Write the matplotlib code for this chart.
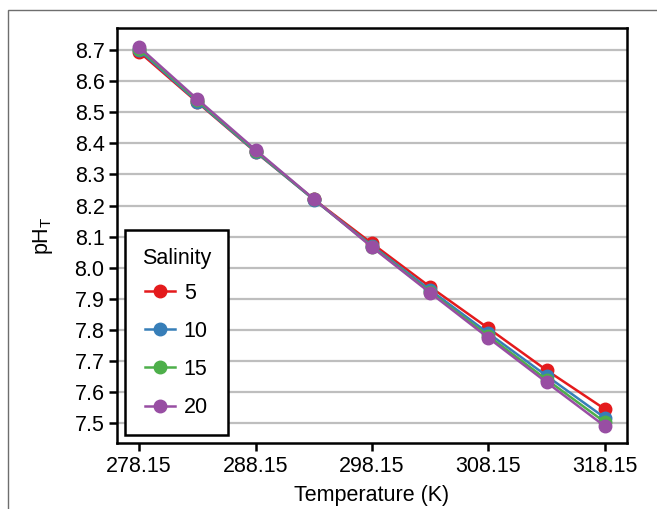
import matplotlib
matplotlib.use("Agg")
import matplotlib.pyplot as plt
from matplotlib.patches import Rectangle

# temperatures (K) and pH_T for each salinity
temps = [278.15, 283.15, 288.15, 293.15, 298.15, 303.15, 308.15, 313.15, 318.15]
ph_s5 = [8.694, 8.532, 8.372, 8.220, 8.078, 7.938, 7.805, 7.670, 7.545]
ph_s10 = [8.700, 8.534, 8.373, 8.219, 8.071, 7.928, 7.789, 7.652, 7.517]
ph_s15 = [8.705, 8.538, 8.376, 8.220, 8.068, 7.922, 7.780, 7.640, 7.503]
ph_s20 = [8.710, 8.542, 8.379, 8.221, 8.066, 7.919, 7.774, 7.631, 7.490]
salinities = ["5", "10", "15", "20"]
colors = ["#E41A1C", "#377EB8", "#4DAF4A", "#984EA3"]
yticks = [7.5, 7.6, 7.7, 7.8, 7.9, 8.0, 8.1, 8.2, 8.3, 8.4, 8.5, 8.6, 8.7]
xticks = [278.15, 288.15, 298.15, 308.15, 318.15]

plt.rcParams['font.family'] = ['Liberation Sans', 'DejaVu Sans']
FS = 15.5

fig = plt.figure(figsize=(6.57, 5.09), dpi=100)
ax = fig.add_axes([117 / 657, 1 - 443 / 509, 510 / 657, 415 / 509])

# thin grey frame around the figure (cropped at right/bottom)
fig.patches.append(Rectangle((8 / 657, -0.2), 1.5, 1.2 - 10 / 509,
                             transform=fig.transFigure, fill=False,
                             edgecolor="#6e6e6e", linewidth=1.0))

for vals, lab, col in zip([ph_s5, ph_s10, ph_s15, ph_s20], salinities, colors):
    ax.plot(temps, vals, color=col, linewidth=1.8, marker="o",
            markersize=9, label=lab, zorder=3)

ax.set_xlim(276.25, 320.05)
ax.set_ylim(7.436, 8.771)
ax.set_xticks(xticks)
ax.set_xticklabels([f"{t:.2f}" for t in xticks])
ax.set_yticks(yticks)
ax.set_yticklabels([f"{v:.1f}" for v in yticks])

ax.grid(axis="y", color="#bebebe", linewidth=1.6, zorder=0)
ax.set_axisbelow(True)
for sp in ax.spines.values():
    sp.set_linewidth(1.8)
    sp.set_color("black")
ax.tick_params(direction="out", length=6, width=1.8, labelsize=FS,
               colors="black", pad=3)

ax.set_xlabel("Temperature (K)", fontsize=FS, labelpad=6)
ax.set_ylabel("pH$_\\mathregular{T}$", fontsize=FS, labelpad=14)

leg = ax.legend(title="Salinity", loc="lower left", fontsize=FS,
                title_fontsize=FS, frameon=True, fancybox=False,
                edgecolor="black", borderaxespad=0.35, labelspacing=0.8,
                handlelength=1.4, borderpad=0.8, handletextpad=0.4)
leg.get_frame().set_linewidth(1.8)
leg.get_frame().set_alpha(1)
leg._legend_box.sep = 10

fig.savefig("out.png", dpi=100)
